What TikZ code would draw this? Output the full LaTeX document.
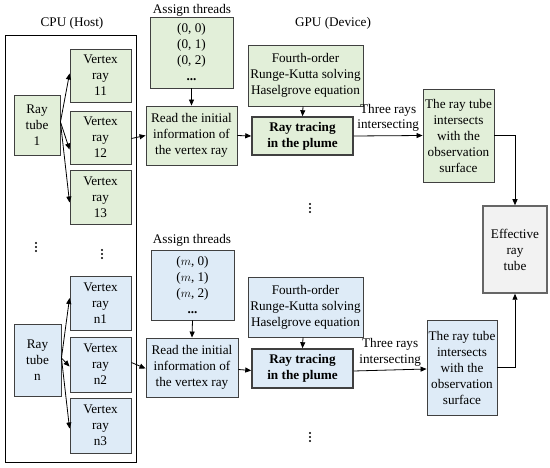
\documentclass[tikz,border=0pt]{standalone}
\usepackage{fontspec}
\setmainfont{Liberation Serif}
\usetikzlibrary{arrows.meta}
\definecolor{gfill}{RGB}{226,239,217}
\definecolor{bfill}{RGB}{222,235,247}
\definecolor{efill}{RGB}{242,242,242}
\definecolor{bord}{RGB}{64,64,64}
\begin{document}
\begin{tikzpicture}[x=1pt,y=-1pt,
  every node/.style={font=\fontsize{13.2}{16}\selectfont, inner sep=0pt, align=center},
  box/.style={draw=bord, line width=0.9pt, rectangle},
  gbox/.style={box, fill=gfill},
  bbox/.style={box, fill=bfill},
  tbox/.style={line width=1.5pt},
  arr/.style={-{Triangle[length=6pt,width=5pt]}, line width=0.8pt, black},
  vdot/.pic={\fill (0,-4) circle (1.1); \fill (0,0) circle (1.1); \fill (0,4) circle (1.1);}
]
\useasboundingbox (0,0) rectangle (550,468);
% CPU frame
\node[draw=black, line width=0.8pt, minimum width=131, minimum height=427] (cpu) at (70.5,248.5) {};
\node (cpulbl) at (72,23) {CPU (Host)};
\node (gpulbl) at (333,23) {GPU (Device)};

% upper group
\node[gbox, minimum width=46, minimum height=60] (rt1) at (37,125) {Ray\\tube\\1};
\node[gbox, minimum width=61, minimum height=53] (v11) at (100.5,75.5) {Vertex\\ray\\11};
\node[gbox, minimum width=61, minimum height=53] (v12) at (100.5,137.5) {Vertex\\ray\\12};
\node[gbox, minimum width=61, minimum height=54] (v13) at (100.5,197.5) {Vertex\\ray\\13};
\node (at1l) at (192,10) {Assign threads};
\node[gbox, minimum width=83, minimum height=71] (at1) at (191.5,52.5) {(0, 0)\\(0, 1)\\(0, 2)\\\textbf{...}};
\node[gbox, minimum width=91, minimum height=59] (rd1) at (191.5,135.5) {Read the initial\\information of\\the vertex ray};
\node[gbox, minimum width=115, minimum height=61] (fo1) at (305.5,75.5) {Fourth-order\\Runge-Kutta solving\\Haselgrove equation};
\node[gbox, tbox, minimum width=101, minimum height=38] (tr1) at (302.5,136) {\textbf{Ray tracing}\\\textbf{in the plume}};
\node[gbox, minimum width=71, minimum height=93] (ri1) at (458.5,135.5) {The ray tube\\intersects\\with the\\observation\\surface};
\node[box, fill=efill, draw=gray!80!black, line width=1.5pt, minimum width=64, minimum height=87] (eff) at (515,249.5) {Effective\\ray\\tube};

% dots
\pic at (310,208) {vdot};
\pic at (36,247) {vdot};
\pic at (102,254) {vdot};
\pic at (310,437) {vdot};

% lower group
\node[bbox, minimum width=47, minimum height=72] (rtn) at (37.5,360) {Ray\\tube\\n};
\node[bbox, minimum width=61, minimum height=54] (vn1) at (100.5,303) {Vertex\\ray\\n1};
\node[bbox, minimum width=61, minimum height=55] (vn2) at (100.5,364.5) {Vertex\\ray\\n2};
\node[bbox, minimum width=61, minimum height=55] (vn3) at (100.5,425.5) {Vertex\\ray\\n3};
\node (at2l) at (192,240) {Assign threads};
\node[bbox, minimum width=83, minimum height=70] (at2) at (192.5,285) {($m$, 0)\\($m$, 1)\\($m$, 2)\\\textbf{...}};
\node[bbox, minimum width=92, minimum height=59] (rd2) at (192,367.5) {Read the initial\\information of\\the vertex ray};
\node[bbox, minimum width=115, minimum height=60] (fo2) at (305.5,307) {Fourth-order\\Runge-Kutta solving\\Haselgrove equation};
\node[bbox, tbox, minimum width=101, minimum height=39] (tr2) at (302.5,368.5) {\textbf{Ray tracing}\\\textbf{in the plume}};
\node[bbox, minimum width=70, minimum height=95] (ri2) at (462,367.5) {The ray tube\\intersects\\with the\\observation\\surface};

% upper arrows
\coordinate (f1) at ([yshift=3]rt1.east);
\draw[arr] (f1) -- ([yshift=2]v11.west);
\draw[arr] (f1) -- ([yshift=-12]v12.west);
\draw[arr] (f1) -- ([yshift=-5]v13.west);
\draw[arr] ([yshift=-1]v12.east) -- (rd1.west);
\draw[arr] (at1.south) -- (rd1.north);
\draw[arr] (rd1.east) -- (tr1.west);
\draw[arr] ([xshift=-2.5]fo1.south) -- (tr1.north);
\draw[arr] (tr1.east) -- node[above=3pt, inner sep=0.5pt] {Three rays\\intersecting} (ri1.west);
\draw[arr] (ri1.east) -| (eff.north);

% lower arrows
\coordinate (f2) at ([yshift=2]rtn.east);
\draw[arr] (f2) -- ([yshift=5]vn1.west);
\draw[arr] (f2) -- ([yshift=-2]vn2.west);
\draw[arr] (f2) -- ([yshift=-3]vn3.west);
\draw[arr] ([yshift=2]vn2.east) -- ([yshift=-1]rd2.west);
\draw[arr] (at2.south) -- (rd2.north);
\draw[arr] ([yshift=-2]rd2.east) -- ([yshift=-2]tr2.west);
\draw[arr] ([xshift=-2.5]fo2.south) -- (tr2.north);
\draw[arr] ([yshift=-2.5]tr2.east) -- node[above=3pt, inner sep=0.5pt] {Three rays\\intersecting} ([yshift=-1.5]ri2.west);
\draw[arr] (ri2.east) -| (eff.south);
\end{tikzpicture}
\end{document}
